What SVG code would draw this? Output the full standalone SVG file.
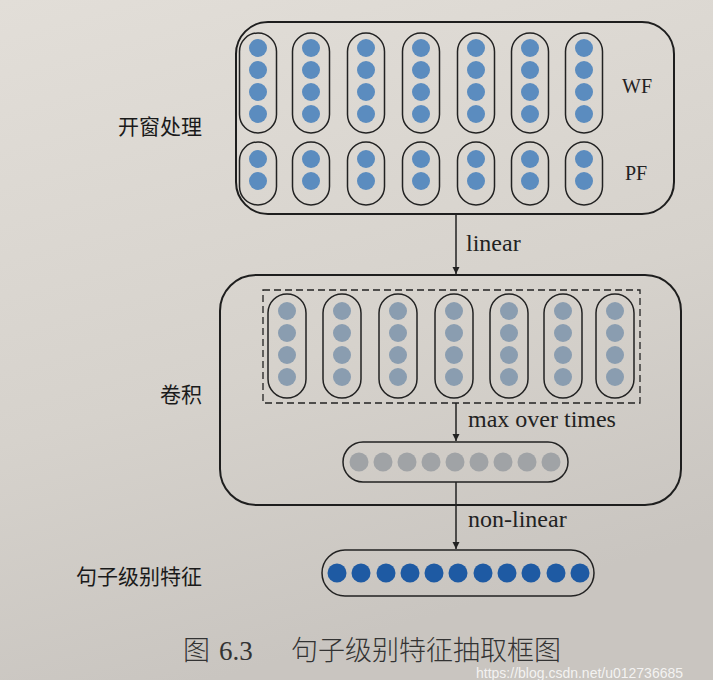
<svg xmlns="http://www.w3.org/2000/svg" width="713" height="680" viewBox="0 0 713 680">
<defs>
<linearGradient id="bg" x1="0" y1="0" x2="0.3" y2="1">
<stop offset="0" stop-color="#e2ded8"/>
<stop offset="0.6" stop-color="#d6d2cc"/>
<stop offset="1" stop-color="#c9c5c0"/>
</linearGradient>
<marker id="ah" viewBox="0 0 10 10" refX="10" refY="5" markerWidth="7" markerHeight="10" orient="auto" markerUnits="userSpaceOnUse">
<path d="M0,0 L10,5 L0,10 Z" fill="#222"/>
</marker>
<style>
.box{fill:none;stroke:#1e1e1e;stroke-width:2}
.pill{fill:none;stroke:#222;stroke-width:1.5}
.dash{fill:none;stroke:#222;stroke-width:1.3;stroke-dasharray:7 4}
.b1{fill:#5b8cbf}
.b2{fill:#8a9db0}
.g{fill:#a0a3a6}
.b3{fill:#1e5aa3}
.conn{stroke:#222;stroke-width:1.5;fill:none}
.lab{font-family:"Noto Sans CJK SC","Noto Sans",sans-serif;font-size:21px;font-weight:400;fill:#1a1a1a;text-anchor:end}
.en{font-family:"Liberation Serif",serif;font-size:24px;fill:#222}
.fe{font-family:"Liberation Serif",serif;font-size:20px;fill:#222}
.cap{font-family:"Noto Sans CJK SC",sans-serif;font-size:27px;font-weight:300;fill:#333}
.capn{font-family:"Liberation Serif",serif;font-size:27px;fill:#333}
</style>
</defs>
<rect width="713" height="680" fill="url(#bg)"/>

<g id="window">
<rect class="box" x="236" y="22" width="438" height="192" rx="32"/>
<g id="wf">
<rect class="pill" x="239.5" y="33" width="37" height="100" rx="18.5"/>
<rect class="pill" x="292.5" y="33" width="37" height="100" rx="18.5"/>
<rect class="pill" x="347.5" y="33" width="37" height="100" rx="18.5"/>
<rect class="pill" x="402.5" y="33" width="37" height="100" rx="18.5"/>
<rect class="pill" x="457.5" y="33" width="37" height="100" rx="18.5"/>
<rect class="pill" x="511.5" y="33" width="37" height="100" rx="18.5"/>
<rect class="pill" x="565.5" y="33" width="37" height="100" rx="18.5"/>
<g class="b1">
<circle cx="258" cy="48" r="9"/><circle cx="258" cy="70" r="9"/><circle cx="258" cy="92" r="9"/><circle cx="258" cy="114" r="9"/>
<circle cx="311" cy="48" r="9"/><circle cx="311" cy="70" r="9"/><circle cx="311" cy="92" r="9"/><circle cx="311" cy="114" r="9"/>
<circle cx="366" cy="48" r="9"/><circle cx="366" cy="70" r="9"/><circle cx="366" cy="92" r="9"/><circle cx="366" cy="114" r="9"/>
<circle cx="421" cy="48" r="9"/><circle cx="421" cy="70" r="9"/><circle cx="421" cy="92" r="9"/><circle cx="421" cy="114" r="9"/>
<circle cx="476" cy="48" r="9"/><circle cx="476" cy="70" r="9"/><circle cx="476" cy="92" r="9"/><circle cx="476" cy="114" r="9"/>
<circle cx="530" cy="48" r="9"/><circle cx="530" cy="70" r="9"/><circle cx="530" cy="92" r="9"/><circle cx="530" cy="114" r="9"/>
<circle cx="584" cy="48" r="9"/><circle cx="584" cy="70" r="9"/><circle cx="584" cy="92" r="9"/><circle cx="584" cy="114" r="9"/>
</g>
<text class="fe" x="622" y="93">WF</text>
</g>
<g id="pf">
<rect class="pill" x="239.5" y="142" width="37" height="63" rx="18.5"/>
<rect class="pill" x="292.5" y="142" width="37" height="63" rx="18.5"/>
<rect class="pill" x="347.5" y="142" width="37" height="63" rx="18.5"/>
<rect class="pill" x="402.5" y="142" width="37" height="63" rx="18.5"/>
<rect class="pill" x="457.5" y="142" width="37" height="63" rx="18.5"/>
<rect class="pill" x="511.5" y="142" width="37" height="63" rx="18.5"/>
<rect class="pill" x="565.5" y="142" width="37" height="63" rx="18.5"/>
<g class="b1">
<circle cx="258" cy="159" r="9"/><circle cx="258" cy="181" r="9"/>
<circle cx="311" cy="159" r="9"/><circle cx="311" cy="181" r="9"/>
<circle cx="366" cy="159" r="9"/><circle cx="366" cy="181" r="9"/>
<circle cx="421" cy="159" r="9"/><circle cx="421" cy="181" r="9"/>
<circle cx="476" cy="159" r="9"/><circle cx="476" cy="181" r="9"/>
<circle cx="530" cy="159" r="9"/><circle cx="530" cy="181" r="9"/>
<circle cx="584" cy="159" r="9"/><circle cx="584" cy="181" r="9"/>
</g>
<text class="fe" x="625" y="180">PF</text>
</g>
<text class="lab" x="202" y="134">开窗处理</text>
</g>

<g id="conv">
<rect class="box" x="220" y="275" width="461" height="230" rx="36"/>
<rect class="dash" x="263" y="290" width="377" height="113"/>
<g id="convpills">
<rect class="pill" x="268" y="294" width="38" height="104" rx="19"/>
<rect class="pill" x="323" y="294" width="38" height="104" rx="19"/>
<rect class="pill" x="379" y="294" width="38" height="104" rx="19"/>
<rect class="pill" x="435" y="294" width="38" height="104" rx="19"/>
<rect class="pill" x="490" y="294" width="38" height="104" rx="19"/>
<rect class="pill" x="544" y="294" width="38" height="104" rx="19"/>
<rect class="pill" x="596" y="294" width="38" height="104" rx="19"/>
<g class="b2">
<circle cx="287" cy="311" r="9"/><circle cx="287" cy="333" r="9"/><circle cx="287" cy="355" r="9"/><circle cx="287" cy="377" r="9"/>
<circle cx="342" cy="311" r="9"/><circle cx="342" cy="333" r="9"/><circle cx="342" cy="355" r="9"/><circle cx="342" cy="377" r="9"/>
<circle cx="398" cy="311" r="9"/><circle cx="398" cy="333" r="9"/><circle cx="398" cy="355" r="9"/><circle cx="398" cy="377" r="9"/>
<circle cx="454" cy="311" r="9"/><circle cx="454" cy="333" r="9"/><circle cx="454" cy="355" r="9"/><circle cx="454" cy="377" r="9"/>
<circle cx="509" cy="311" r="9"/><circle cx="509" cy="333" r="9"/><circle cx="509" cy="355" r="9"/><circle cx="509" cy="377" r="9"/>
<circle cx="563" cy="311" r="9"/><circle cx="563" cy="333" r="9"/><circle cx="563" cy="355" r="9"/><circle cx="563" cy="377" r="9"/>
<circle cx="615" cy="311" r="9"/><circle cx="615" cy="333" r="9"/><circle cx="615" cy="355" r="9"/><circle cx="615" cy="377" r="9"/>
</g>
</g>
<g id="maxpool">
<rect class="pill" x="343" y="442" width="225" height="40" rx="20"/>
<g class="g">
<circle cx="359" cy="462" r="9.5"/><circle cx="383" cy="462" r="9.5"/><circle cx="407" cy="462" r="9.5"/><circle cx="431" cy="462" r="9.5"/><circle cx="455" cy="462" r="9.5"/><circle cx="479" cy="462" r="9.5"/><circle cx="503" cy="462" r="9.5"/><circle cx="527" cy="462" r="9.5"/><circle cx="551" cy="462" r="9.5"/>
</g>
</g>
<text class="lab" x="202" y="402">卷积</text>
</g>

<g id="sentence">
<rect class="pill" x="322" y="550" width="272" height="46" rx="23"/>
<g class="b3">
<circle cx="337" cy="573" r="9.5"/><circle cx="361" cy="573" r="9.5"/><circle cx="386" cy="573" r="9.5"/><circle cx="410" cy="573" r="9.5"/><circle cx="434" cy="573" r="9.5"/><circle cx="458" cy="573" r="9.5"/><circle cx="483" cy="573" r="9.5"/><circle cx="507" cy="573" r="9.5"/><circle cx="531" cy="573" r="9.5"/><circle cx="556" cy="573" r="9.5"/><circle cx="580" cy="573" r="9.5"/>
</g>
<text class="lab" x="202" y="584">句子级别特征</text>
</g>

<g id="connectors">
<line class="conn" x1="456" y1="214" x2="456" y2="274" marker-end="url(#ah)"/>
<line class="conn" x1="456" y1="403" x2="456" y2="441" marker-end="url(#ah)"/>
<line class="conn" x1="456" y1="482" x2="456" y2="549" marker-end="url(#ah)"/>
<text class="en" x="466" y="251">linear</text>
<text class="en" x="468" y="427">max over times</text>
<text class="en" x="468" y="527">non-linear</text>
</g>

<text class="cap" x="183" y="660">图</text>
<text class="capn" x="219" y="660">6.3</text>
<text class="cap" x="291" y="660">句子级别特征抽取框图</text>
<text x="476" y="678" font-family="Liberation Sans, sans-serif" font-size="14" fill="#ffffff" fill-opacity="0.8">https://blog.csdn.net/u012736685</text>
</svg>
